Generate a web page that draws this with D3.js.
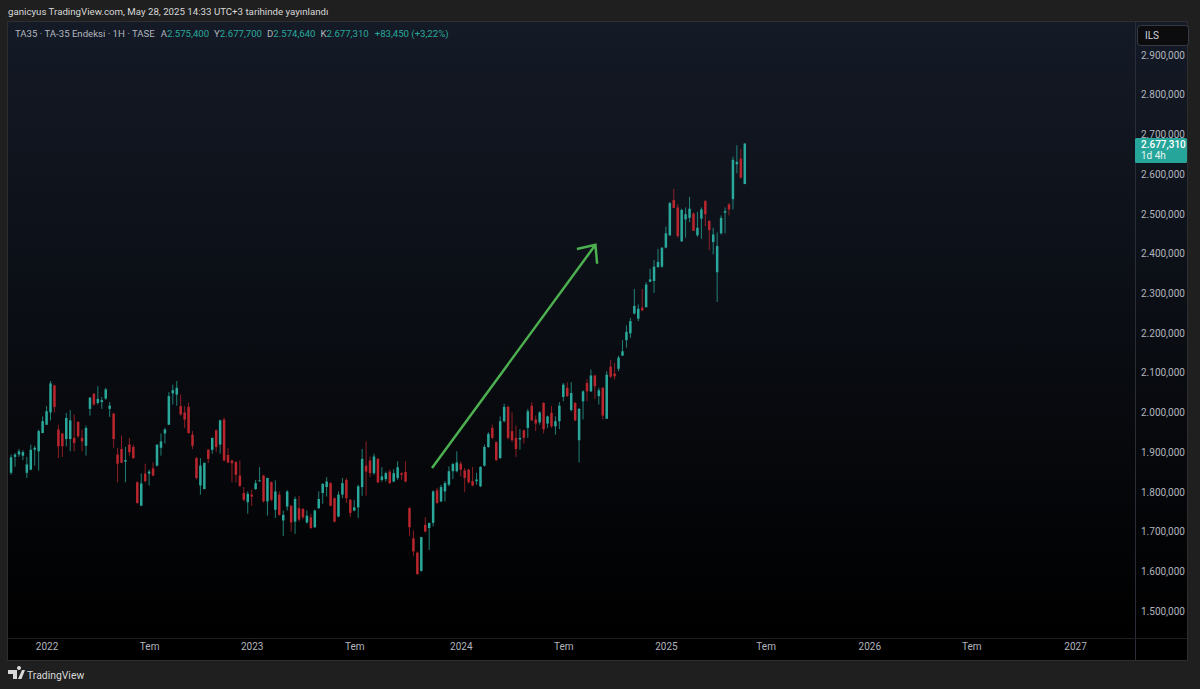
<!DOCTYPE html>
<html>
<head>
<meta charset="utf-8">
<script src="https://cdn.jsdelivr.net/npm/d3@7"></script>
<style>
    html, body { margin: 0; padding: 0; background: #1f1f1f; overflow: hidden; }
    svg { display: block; }
    text { font-family: Roboto, "Open Sans", sans-serif; }
    .axis text { fill: #b2b5be; font-size: 10px; }
    .axis path, .axis line { display: none; }
</style>
</head>
<body>
<svg id="chart" width="1200" height="689"></svg>
<script>
// weekly candles, first one is the week of this date
const firstWeek = "2021-10-31";

// open, high, low, close in thousands
const candles = [
    [1848,1894,1843,1887],[1888,1898,1863,1894],[1894,1908,1888,1902],[1891,1905,1880,1900],[1848,1888,1835,1869],
    [1856,1919,1854,1906],[1906,1916,1866,1911],[1902,1957,1854,1953],[1948,1990,1948,1978],[1969,2016,1969,2003],
    [2000,2079,1980,2073],[2068,2070,2000,2014],[1957,1969,1885,1915],[1947,1948,1888,1915],[1933,1999,1915,1986],
    [1933,2006,1902,1980],[1936,1995,1902,1923],[1976,1978,1936,1940],[1936,1957,1902,1927],[1916,1967,1891,1961],
    [2009,2039,1992,2037],[2047,2049,2017,2020],[2024,2066,2020,2034],[2026,2039,2009,2031],[2035,2062,2032,2058],
    [2009,2026,1989,2017],[1997,1999,1911,1933],[1894,1911,1824,1871],[1908,1942,1873,1873],[1876,1913,1824,1880],
    [1919,1936,1891,1900],[1913,1919,1883,1885],[1824,1827,1770,1772],[1765,1846,1765,1821],[1846,1871,1824,1827],
    [1846,1856,1816,1851],[1859,1874,1839,1841],[1866,1919,1864,1919],[1911,1947,1891,1927],[1947,1961,1922,1957],
    [1969,2051,1969,2041],[2048,2070,2020,2056],[2045,2079,2017,2062],[2016,2045,1992,1995],[2000,2016,1961,1982],
    [2014,2024,1947,1948],[1944,1953,1908,1916],[1885,1888,1831,1835],[1816,1885,1793,1866],[1807,1874,1807,1873],
    [1906,1908,1873,1883],[1906,1936,1896,1936],[1955,1957,1900,1913],[1919,1982,1896,1980],[1982,1987,1877,1879],
    [1893,1910,1872,1874],[1879,1881,1824,1872],[1875,1877,1824,1843],[1841,1879,1812,1815],[1797,1812,1776,1780],
    [1774,1801,1745,1795],[1793,1805,1765,1788],[1807,1830,1805,1822],[1827,1862,1826,1829],[1841,1843,1773,1776],
    [1776,1835,1740,1835],[1825,1826,1776,1780],[1755,1829,1734,1801],[1793,1801,1740,1742],[1728,1753,1689,1742],
    [1763,1804,1753,1801],[1765,1767,1700,1723],[1725,1788,1694,1782],[1759,1790,1725,1730],[1757,1759,1731,1736],
    [1723,1753,1720,1740],[1736,1745,1706,1709],[1711,1755,1709,1753],[1759,1801,1757,1782],[1797,1822,1770,1820],
    [1812,1837,1788,1826],[1822,1824,1763,1765],[1784,1786,1723,1725],[1738,1801,1736,1793],[1793,1835,1784,1822],
    [1830,1835,1772,1784],[1780,1782,1736,1747],[1753,1780,1751,1761],[1761,1818,1734,1814],[1812,1908,1790,1883],
    [1866,1927,1790,1851],[1879,1889,1837,1847],[1847,1896,1843,1889],[1883,1885,1822,1824],[1830,1862,1826,1839],
    [1832,1851,1826,1847],[1851,1856,1820,1822],[1826,1857,1824,1847],[1835,1877,1830,1862],[1847,1849,1830,1843],
    [1850,1877,1824,1826],[1759,1762,1689,1711],[1683,1703,1639,1650],[1647,1650,1591,1593],[1601,1686,1599,1686],
    [1717,1736,1698,1700],[1709,1722,1654,1722],[1722,1804,1713,1801],[1804,1810,1770,1772],[1776,1818,1774,1812],
    [1801,1827,1776,1822],[1818,1864,1814,1852],[1852,1873,1832,1870],[1852,1902,1849,1874],[1871,1877,1839,1856],
    [1854,1860,1799,1835],[1856,1858,1821,1824],[1827,1863,1814,1816],[1827,1848,1818,1831],[1814,1864,1812,1863],
    [1866,1919,1864,1913],[1913,1950,1911,1946],[1961,1969,1933,1936],[1925,1927,1877,1880],[1885,1990,1883,1978],
    [1978,2022,1975,2014],[2014,2017,1932,1936],[1953,2000,1925,1930],[1936,1967,1888,1908],[1932,1958,1906,1936],
    [1955,1957,1922,1936],[1961,2009,1936,2003],[2017,2026,1978,1980],[1982,1992,1953,1972],[1975,2003,1969,2000],
    [2024,2026,1947,1958],[1972,1992,1961,1990],[1999,2016,1961,1965],[1965,1990,1944,1978],[1978,2026,1958,2017],
    [2039,2074,2028,2070],[2062,2076,2039,2041],[2006,2076,2003,2049],[2024,2026,1978,1980],[1930,2011,1874,2009],
    [2028,2056,1982,2053],[2074,2083,2028,2053],[2053,2108,2051,2093],[2093,2095,2034,2066],[2041,2062,2020,2056],
    [2062,2064,1982,1992],[1984,2104,1984,2095],[2115,2133,2087,2090],[2098,2125,2083,2091],[2110,2143,2104,2138],
    [2143,2182,2142,2154],[2182,2219,2163,2203],[2199,2238,2188,2230],[2249,2311,2247,2268],[2236,2272,2230,2261],
    [2264,2311,2255,2257],[2265,2328,2264,2322],[2329,2362,2328,2335],[2331,2384,2301,2367],[2366,2412,2364,2379],
    [2367,2415,2364,2415],[2415,2468,2413,2451],[2446,2530,2444,2527],[2535,2563,2515,2515],[2516,2524,2440,2444],
    [2431,2513,2429,2510],[2486,2516,2440,2499],[2490,2543,2479,2513],[2501,2503,2457,2457],[2446,2505,2442,2465],
    [2488,2516,2437,2511],[2532,2535,2469,2499],[2482,2484,2409,2459],[2429,2465,2398,2448],[2353,2453,2278,2419],
    [2451,2496,2448,2490],[2503,2516,2451,2507],[2524,2527,2496,2511],[2537,2644,2511,2636],[2625,2673,2602,2631],
    [2639,2663,2589,2591],[2575,2678,2575,2677]
];

const priceTicks = [1500, 1600, 1700, 1800, 1900, 2000, 2100, 2200, 2300, 2400, 2500, 2600, 2700, 2800, 2900];
// labels sit on the first bar of the period where there are bars
const timeTicks = ["2022-01-02", "2022-07-03", "2023-01-01", "2023-07-02", "2024-01-07", "2024-07-07",
    "2025-01-05", "2025-07-01", "2026-01-01", "2026-07-01", "2027-01-01"];
const timeLabels = ["2022", "Tem", "2023", "Tem", "2024", "Tem", "2025", "Tem", "2026", "Tem", "2027"];

const lastPrice = 2677.31;
const arrowDates = ["2023-11-17", "2024-09-02"];
const arrowPrices = [1860, 2422];

const title = "ganicyus TradingView.com, May 28, 2025 14:33 UTC+3 tarihinde yayınlandı";
const legendName = "TA35 · TA-35 Endeksi · 1H · TASE";
const legendValues = [["A", "2.575,400"], ["Y", "2.677,700"], ["D", "2.574,640"], ["K", "2.677,310"]];
const legendChange = "+83,450 (+3,22%)";

const upColor = "#2aa89b", downColor = "#b9262e";

const svg = d3.select("#chart");
const pane = { left: 8, right: 1187, top: 22, plotRight: 1135, plotBottom: 638, bottom: 660 };

const y = d3.scaleLinear().domain([1500, 2900]).range([611, 55]);
const x = d3.scaleUtc()
    .domain([new Date("2022-01-01"), new Date("2027-01-01")])
    .range([46, 1075]);
const weekDate = i => d3.utcDay.offset(new Date(firstWeek), i * 7);
const priceFormat = d3.formatLocale({ decimal: ",", thousands: ".", grouping: [3], currency: ["", ""] }).format(",.3f");

const defs = svg.append("defs");
const grad = defs.append("linearGradient")
    .attr("id", "paneBg")
    .attr("x1", 0).attr("y1", 0).attr("x2", 0).attr("y2", 1);
grad.append("stop").attr("offset", "0%").attr("stop-color", "#141a26");
grad.append("stop").attr("offset", "100%").attr("stop-color", "#000000");

svg.append("rect")
    .attr("x", pane.left)
    .attr("y", pane.top)
    .attr("width", pane.right - pane.left)
    .attr("height", pane.plotBottom - pane.top)
    .attr("fill", "url(#paneBg)");

svg.append("rect")
    .attr("x", pane.left)
    .attr("y", pane.plotBottom)
    .attr("width", pane.right - pane.left)
    .attr("height", pane.bottom - pane.plotBottom)
    .attr("fill", "#000");

// borders
svg.append("rect")
    .attr("x", pane.left - 0.5)
    .attr("y", pane.top - 0.5)
    .attr("width", pane.right - pane.left + 1)
    .attr("height", pane.bottom - pane.top + 1)
    .attr("fill", "none")
    .attr("stroke", "#2e2e2e");
svg.append("line")
    .attr("x1", pane.plotRight + 0.5).attr("x2", pane.plotRight + 0.5)
    .attr("y1", pane.top).attr("y2", pane.bottom)
    .attr("stroke", "#2a2d35");
svg.append("line")
    .attr("x1", pane.left).attr("x2", pane.right)
    .attr("y1", pane.plotBottom + 0.5).attr("y2", pane.plotBottom + 0.5)
    .attr("stroke", "#1e1e1e");

// candles
const candle = svg.append("g")
    .selectAll("g")
    .data(candles)
    .join("g")
    .attr("transform", (d, i) => `translate(${x(weekDate(i))},0)`)
    .attr("fill", d => d[3] >= d[0] ? upColor : downColor)
    .attr("stroke", d => d[3] >= d[0] ? upColor : downColor);

candle.append("line")
    .attr("y1", d => y(d[1]))
    .attr("y2", d => y(d[2]))
    .attr("stroke-width", 1)
    .attr("stroke-opacity", 0.75);

candle.append("rect")
    .attr("x", -1.25)
    .attr("width", 2.5)
    .attr("y", d => y(Math.max(d[0], d[3])))
    .attr("height", d => Math.max(1, Math.abs(y(d[0]) - y(d[3]))))
    .attr("stroke", "none");

// arrow
const arrowFrom = [x(new Date(arrowDates[0])), y(arrowPrices[0])];
const arrowTo = [x(new Date(arrowDates[1])), y(arrowPrices[1])];
const arrowAngle = Math.atan2(arrowFrom[1] - arrowTo[1], arrowFrom[0] - arrowTo[0]);
const wing = a => [arrowTo[0] + 19 * Math.cos(arrowAngle + a), arrowTo[1] + 19 * Math.sin(arrowAngle + a)];
const arrow = d3.path();
arrow.moveTo(...arrowFrom);
arrow.lineTo(...arrowTo);
arrow.moveTo(...wing(0.72));
arrow.lineTo(...arrowTo);
arrow.lineTo(...wing(-0.72));
svg.append("path")
    .attr("d", arrow)
    .attr("fill", "none")
    .attr("stroke", "#4caf50")
    .attr("stroke-width", 2.5);

// axes
svg.append("g")
    .attr("class", "axis")
    .attr("transform", `translate(${pane.plotRight},0)`)
    .call(d3.axisRight(y).tickValues(priceTicks).tickSize(0).tickPadding(6).tickFormat(priceFormat));

svg.append("g")
    .attr("class", "axis")
    .attr("transform", `translate(0,${pane.plotBottom})`)
    .call(d3.axisBottom(x)
        .tickValues(timeTicks.map(d => new Date(d)))
        .tickSize(0)
        .tickPadding(5)
        .tickFormat((d, i) => timeLabels[i]))
    .selectAll("text")
    .attr("fill", "#c6c8ce");

// last price tag
const tag = svg.append("g").attr("transform", `translate(${pane.plotRight},${y(lastPrice)})`);
tag.append("rect")
    .attr("y", -5.5)
    .attr("width", 52)
    .attr("height", 25)
    .attr("rx", 1.5)
    .attr("fill", "#26a69a");
tag.append("text")
    .attr("x", 6)
    .attr("y", 4.5)
    .attr("fill", "#fff")
    .attr("font-size", 10)
    .attr("font-weight", 500)
    .text(priceFormat(lastPrice));
tag.append("text")
    .attr("x", 6)
    .attr("y", 16)
    .attr("fill", "#e6f5f3")
    .attr("font-size", 10)
    .text("1d 4h");

// currency button
svg.append("rect")
    .attr("x", 1137.5).attr("y", 25.5)
    .attr("width", 51).attr("height", 20)
    .attr("rx", 3)
    .attr("fill", "#0c0c0e")
    .attr("stroke", "#363a45");
svg.append("text")
    .attr("x", 1145).attr("y", 39)
    .attr("fill", "#d1d4dc")
    .attr("font-size", 10)
    .text("ILS");

// top title
svg.append("text")
    .attr("x", 8).attr("y", 15)
    .attr("fill", "#d8d8d8")
    .attr("font-size", 9.7)
    .text(title);

// legend line
const legend = svg.append("text")
    .attr("x", 15).attr("y", 37)
    .attr("font-size", 9.6)
    .attr("fill", "#b2b5be");
legend.append("tspan").text(legendName);
legendValues.forEach(([k, v], i) => {
    legend.append("tspan").attr("dx", i === 0 ? 6 : 5).text(k);
    legend.append("tspan").attr("fill", upColor).text(v);
});
legend.append("tspan").attr("dx", 6).attr("fill", upColor).text(legendChange);

// footer logo
svg.append("path")
    .attr("fill", "#d8d8d8")
    .attr("d", "M8 670h9v9h-4v-5h-5z M19 670a2 2 0 1 1 .01 0z M22 670h3l-3.500 9h-3.500z");
svg.append("text")
    .attr("x", 27).attr("y", 679)
    .attr("fill", "#d8d8d8")
    .attr("font-size", 10.4)
    .text("TradingView");
</script>
</body>
</html>
